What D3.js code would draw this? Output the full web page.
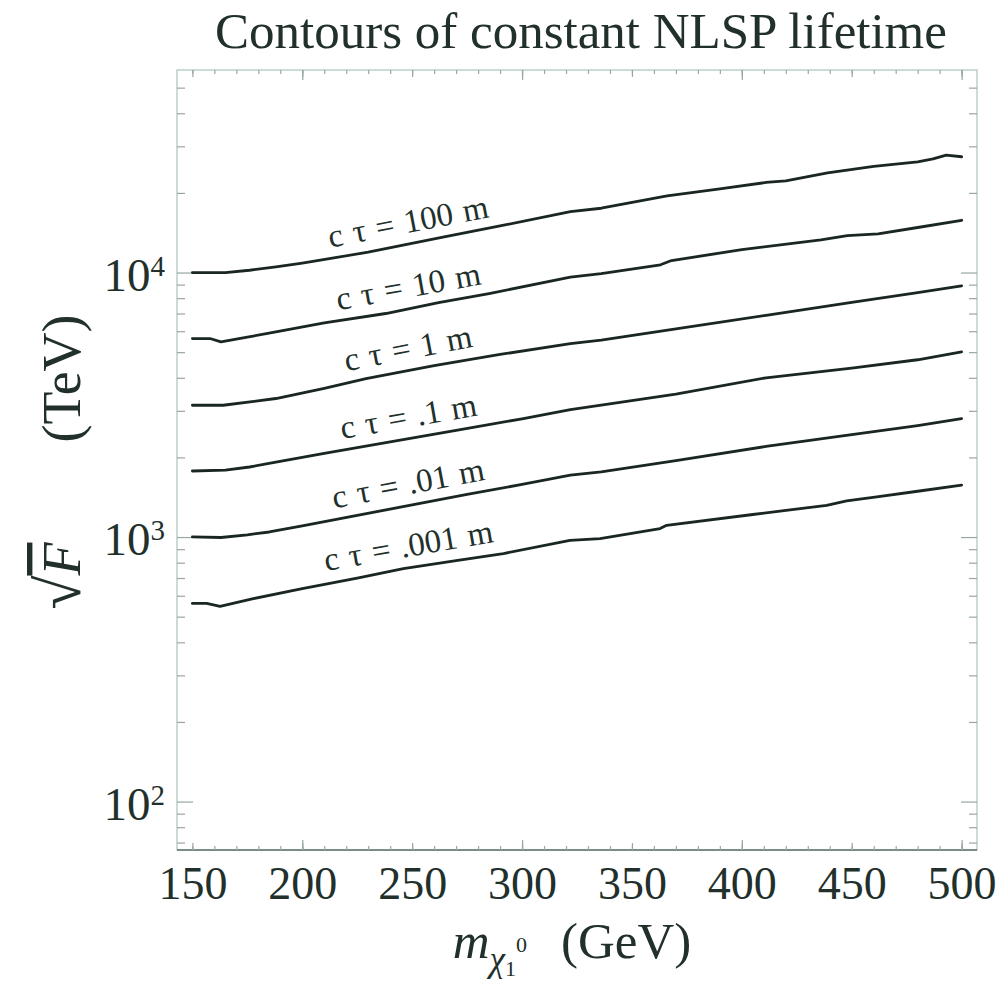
<!DOCTYPE html>
<html>
<head>
<meta charset="utf-8">
<script src="https://cdn.jsdelivr.net/npm/d3@7"></script>
<style>
  html, body { margin: 0; padding: 0; background: #ffffff; }
  svg { display: block; }
  text { font-family: "Liberation Serif", "Times New Roman", "DejaVu Serif", serif; fill: #22302c; }
</style>
</head>
<body>
<svg id="chart" width="1001" height="983"></svg>
<script>
// Contour series: neutralino mass (GeV) and sqrt(F) (TeV) along each line of constant c·tau
const ct100Mass = [150, 165, 176, 188, 200, 213, 230, 264, 290, 322, 336, 366, 390, 411, 420, 439, 460, 480, 487, 493, 500];
const ct100F    = [10000, 10000, 10200, 10500, 10850, 11300, 11950, 13600, 15000, 17000, 17500, 19500, 20700, 21900, 22200, 23800, 25200, 26200, 26900, 27800, 27400];

const ct10Mass = [150, 158, 163, 175, 188, 210, 238, 262, 285, 322, 336, 363, 368, 400, 436, 448, 462, 480, 500];
const ct10F    = [5630, 5630, 5470, 5700, 5960, 6450, 7000, 7700, 8330, 9600, 9900, 10700, 11100, 12200, 13300, 13800, 14000, 14800, 15760];

const ct1Mass = [150, 164, 188, 210, 229, 260, 290, 322, 336, 370, 411, 450, 480, 500];
const ct1F    = [3150, 3150, 3340, 3650, 3970, 4450, 4900, 5390, 5550, 6120, 6890, 7710, 8400, 8900];

const ct01Mass = [150, 165, 176, 188, 210, 240, 270, 300, 322, 336, 370, 411, 450, 480, 500];
const ct01F    = [1777, 1790, 1840, 1920, 2070, 2290, 2530, 2800, 3030, 3150, 3470, 4000, 4350, 4680, 5010];

const ct001Mass = [150, 163, 175, 185, 200, 225, 250, 275, 300, 322, 336, 370, 411, 450, 480, 500];
const ct001F    = [1001, 996, 1020, 1045, 1103, 1208, 1323, 1449, 1581, 1713, 1762, 1944, 2200, 2440, 2640, 2805];

const ct0001Mass = [150, 156.5, 162.6, 177.7, 200, 225, 246, 270, 291.5, 321.8, 335.5, 362.8, 365.8, 405, 438.6, 447.7, 461.4, 480, 500];
const ct0001F    = [561, 561, 547, 585, 638, 700, 760, 814, 866, 972, 987, 1077, 1108, 1217, 1318, 1369, 1418, 1490, 1570];

const contourLabels = ["c τ = 100 m", "c τ = 10 m", "c τ = 1 m", "c τ = .1 m", "c τ = .01 m", "c τ = .001 m"];
const labelMass = 250;

// Axis ticks
const xTickLabels = [150, 200, 250, 300, 350, 400, 450, 500];
const yTickLabels = [100, 1000, 10000];
const yTickExponents = ["2", "3", "4"];

const titleText = "Contours of constant NLSP lifetime";

const series = [
  { mass: ct100Mass,  F: ct100F,  label: contourLabels[0] },
  { mass: ct10Mass,   F: ct10F,   label: contourLabels[1] },
  { mass: ct1Mass,    F: ct1F,    label: contourLabels[2] },
  { mass: ct01Mass,   F: ct01F,   label: contourLabels[3] },
  { mass: ct001Mass,  F: ct001F,  label: contourLabels[4] },
  { mass: ct0001Mass, F: ct0001F, label: contourLabels[5] }
];

const W = 1001, H = 983;
const margin = { top: 70, right: 24, bottom: 133, left: 177 };
const svg = d3.select("#chart");

const x = d3.scaleLinear().domain([143, 507]).range([margin.left, W - margin.right]);
const y = d3.scaleLog().domain([65.6, 58300]).range([H - margin.bottom, margin.top]);

const frameColor = "#bcd0cc";
const tickColor = "#98a7a4";
const lineColor = "#1a2622";

// Frame
svg.append("rect")
  .attr("x", margin.left).attr("y", margin.top)
  .attr("width", W - margin.left - margin.right)
  .attr("height", H - margin.bottom - margin.top)
  .attr("fill", "none").attr("stroke", frameColor).attr("stroke-width", 1.5);
svg.append("line")
  .attr("x1", margin.left).attr("x2", W - margin.right)
  .attr("y1", H - margin.bottom).attr("y2", H - margin.bottom)
  .attr("stroke", "#7e8c89").attr("stroke-width", 1.8);

// Tick value sets
const xMinor = d3.range(150, 501, 10);
const xMid = d3.range(150, 501, 50);
const xMajor = [200, 300, 400, 500];
const yMinor = [];
[10, 100, 1000, 10000].forEach(d => { for (let k = 2; k <= 9; k++) { const v = d * k; if (v > 65.6 && v < 58300) yMinor.push(v); } });

function styleAxis(g) {
  g.select(".domain").remove();
  g.selectAll(".tick line").attr("stroke", tickColor).attr("stroke-width", 1.2);
}

const bottomY = H - margin.bottom, topY = margin.top;
const leftX = margin.left, rightX = W - margin.right;

// Horizontal axis ticks (inward on bottom and top)
[[xMinor, 4], [xMid, 7], [xMajor, 10]].forEach(([vals, len]) => {
  svg.append("g").attr("transform", `translate(0,${bottomY})`)
    .call(d3.axisBottom(x).tickValues(vals).tickSize(-len).tickFormat(""))
    .call(styleAxis);
  svg.append("g").attr("transform", `translate(0,${topY})`)
    .call(d3.axisTop(x).tickValues(vals).tickSize(-len).tickFormat(""))
    .call(styleAxis);
});

// Vertical axis ticks (inward on left and right)
[[yMinor, 8], [yTickLabels, 16]].forEach(([vals, len]) => {
  svg.append("g").attr("transform", `translate(${leftX},0)`)
    .call(d3.axisLeft(y).tickValues(vals).tickSize(-len).tickFormat(""))
    .call(styleAxis);
  svg.append("g").attr("transform", `translate(${rightX},0)`)
    .call(d3.axisRight(y).tickValues(vals).tickSize(-len).tickFormat(""))
    .call(styleAxis);
});

// Horizontal tick labels
const xLab = svg.append("g").attr("transform", `translate(0,${bottomY})`)
  .call(d3.axisBottom(x).tickValues(xTickLabels).tickSize(0).tickPadding(16).tickFormat(d3.format("d")));
xLab.select(".domain").remove();
xLab.attr("font-family", null).attr("font-size", null);
xLab.selectAll("text").style("font-size", "46px").style("fill", "#22302c");

// Vertical tick labels as powers of ten
const yLab = svg.append("g").attr("transform", `translate(${leftX},0)`)
  .call(d3.axisLeft(y).tickValues(yTickLabels).tickSize(0).tickPadding(12).tickFormat(() => ""));
yLab.select(".domain").remove();
yLab.attr("font-family", null).attr("font-size", null);
yLab.selectAll(".tick text").each(function(d, i) {
  const t = d3.select(this).attr("dy", "0.38em").style("font-size", "47px").style("fill", "#22302c");
  t.text(null);
  t.append("tspan").text("10");
  t.append("tspan").attr("dy", "-0.52em").style("font-size", "29px").text(yTickExponents[i]);
});

// Contour lines
const line = d3.line().x(d => x(d[0])).y(d => y(d[1]));
const plot = svg.append("g");
series.forEach(s => {
  const pts = s.mass.map((m, i) => [m, s.F[i]]);
  plot.append("path").datum(pts)
    .attr("d", line)
    .attr("fill", "none")
    .attr("stroke", lineColor)
    .attr("stroke-width", 2.8)
    .attr("stroke-linejoin", "round")
    .attr("stroke-linecap", "round");
});

// Contour labels placed just above each line, following its slope
function valueAt(s, m) {
  for (let i = 0; i < s.mass.length - 1; i++) {
    if (m >= s.mass[i] && m <= s.mass[i + 1]) {
      const t = (m - s.mass[i]) / (s.mass[i + 1] - s.mass[i]);
      return Math.pow(10, Math.log10(s.F[i]) * (1 - t) + Math.log10(s.F[i + 1]) * t);
    }
  }
  return s.F[s.F.length - 1];
}
series.forEach(s => {
  const px = x(labelMass), py = y(valueAt(s, labelMass));
  const x0 = x(labelMass - 40), y0 = y(valueAt(s, labelMass - 40));
  const x1 = x(labelMass + 40), y1 = y(valueAt(s, labelMass + 40));
  const ang = Math.atan2(y1 - y0, x1 - x0) * 180 / Math.PI;
  svg.append("text")
    .attr("transform", `translate(${px},${py}) rotate(${ang})`)
    .attr("x", 0).attr("y", -11)
    .attr("text-anchor", "middle")
    .style("font-size", "33px")
    .style("word-spacing", "2px")
    .text(s.label);
});

// Title
svg.append("text")
  .attr("x", 581).attr("y", 48)
  .attr("text-anchor", "middle")
  .style("font-size", "51px")
  .text(titleText);

// Horizontal axis title: m_{chi_1^0} (GeV)
const xt = svg.append("text")
  .attr("x", 572).attr("y", 958)
  .attr("text-anchor", "middle")
  .style("font-size", "51px");
xt.append("tspan").style("font-style", "italic").text("m");
xt.append("tspan").attr("dy", 13).style("font-style", "italic").style("font-size", "35px").text("χ");
xt.append("tspan").attr("dy", 5).style("font-size", "22px").text("1");
xt.append("tspan").attr("dy", -24).style("font-size", "22px").text("0");
xt.append("tspan").attr("dy", 6).attr("dx", 34).text("(GeV)");

// Vertical axis title: sqrt(F) (TeV)
const yt = svg.append("text")
  .attr("transform", "translate(80,462) rotate(-90)")
  .attr("text-anchor", "middle")
  .style("font-size", "54px");
yt.append("tspan").style("font-size", "62px").text("√");
yt.append("tspan").style("font-style", "italic").style("text-decoration", "overline").text("F");
yt.append("tspan").attr("dx", 100).text("(TeV)");
</script>
</body>
</html>
